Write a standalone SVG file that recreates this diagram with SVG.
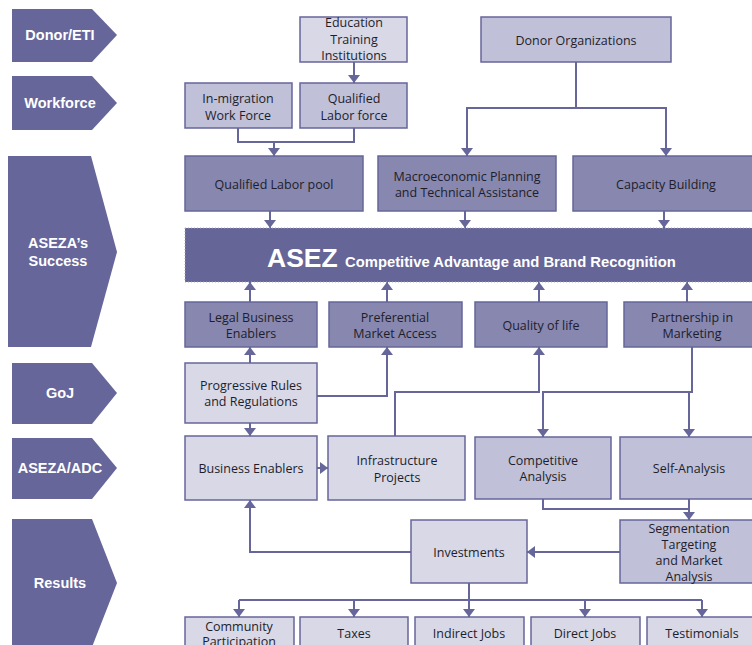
<svg xmlns="http://www.w3.org/2000/svg" width="752" height="645" viewBox="0 0 752 645">
<style>
.lbl{fill:#66669a}
.lt{font-family:"Liberation Sans",Arial,sans-serif;font-weight:bold;font-size:14.5px;fill:#fff;text-anchor:middle}
.n rect{stroke:#66669a;stroke-width:1.5}
.light{fill:#d8d8e7}
.med{fill:#c0c0d9}
.dark{fill:#8787b0}
.t{font-family:"Open Sans","Noto Sans",sans-serif;font-size:12.5px;fill:#1e1e2a;text-anchor:middle}
.c path{fill:none;stroke:#66669a;stroke-width:2}
</style>
<defs>
<marker id="ah" viewBox="0 0 8 12" refX="8" refY="6" markerWidth="8" markerHeight="12" markerUnits="userSpaceOnUse" orient="auto">
<path d="M0,0 L8,6 L0,12 z" fill="#66669a"/>
</marker>
</defs>
<rect width="752" height="645" fill="#fff"/>

<g id="label-donor"><polygon class="lbl" points="12,9 92,9 117,35 92,62 12,62"/><text class="lt" x="60" y="40">Donor/ETI</text></g>
<g id="label-workforce"><polygon class="lbl" points="12,76 92,76 117,103 92,130 12,130"/><text class="lt" x="60" y="108">Workforce</text></g>
<g id="label-success"><polygon class="lbl" points="8,156 91,156 117,252 91,347 8,347"/><text class="lt" x="58" y="248">ASEZA’s</text><text class="lt" x="58" y="266">Success</text></g>
<g id="label-goj"><polygon class="lbl" points="12,363 92,363 117,393 92,424 12,424"/><text class="lt" x="60" y="398">GoJ</text></g>
<g id="label-adc"><polygon class="lbl" points="12,438 92,438 117,468 92,499 12,499"/><text class="lt" x="60" y="473">ASEZA/ADC</text></g>
<g id="label-results"><polygon class="lbl" points="12,519 92,519 117,583 92,647 12,647"/><text class="lt" x="60" y="588">Results</text></g>

<g id="connectors" class="c">
<path d="M354,62 V83" marker-end="url(#ah)"/>
<path d="M238,128 V142 H354 V128"/>
<path d="M274,142 V156" marker-end="url(#ah)"/>
<path d="M576,62 V108"/>
<path d="M576,108 H467 V156" marker-end="url(#ah)"/>
<path d="M576,108 H666 V156" marker-end="url(#ah)"/>
<path d="M270,211 V228" marker-end="url(#ah)"/>
<path d="M465,211 V228" marker-end="url(#ah)"/>
<path d="M664,211 V228" marker-end="url(#ah)"/>
<path d="M250,302 V282" marker-end="url(#ah)"/>
<path d="M387,302 V282" marker-end="url(#ah)"/>
<path d="M539,302 V282" marker-end="url(#ah)"/>
<path d="M687,302 V282" marker-end="url(#ah)"/>
<path d="M250,363 V347" marker-end="url(#ah)"/>
<path d="M317,396 H387 V347" marker-end="url(#ah)"/>
<path d="M250,423 V436" marker-end="url(#ah)"/>
<path d="M317,468 H328" marker-end="url(#ah)"/>
<path d="M395,436 V392 H539 V347" marker-end="url(#ah)"/>
<path d="M692,347 V392 H543 V437" marker-end="url(#ah)"/>
<path d="M689,392 V437" marker-end="url(#ah)"/>
<path d="M543,499 V509 H689"/>
<path d="M689,499 V520" marker-end="url(#ah)"/>
<path d="M620,552 H527" marker-end="url(#ah)"/>
<path d="M411,552 H250 V500" marker-end="url(#ah)"/>
<path d="M469,583 V600"/>
<path d="M239,600 H702"/>
<path d="M239,600 V617" marker-end="url(#ah)"/>
<path d="M354,600 V617" marker-end="url(#ah)"/>
<path d="M469,600 V617" marker-end="url(#ah)"/>
<path d="M585,600 V617" marker-end="url(#ah)"/>
<path d="M702,600 V617" marker-end="url(#ah)"/>
</g>

<g id="edu" class="n"><rect class="light" x="300" y="17" width="107" height="45"/><text class="t" x="354" y="27">Education</text><text class="t" x="354" y="44">Training</text><text class="t" x="354" y="60">Institutions</text></g>
<g id="donor-org" class="n"><rect class="med" x="481" y="17" width="190" height="45"/><text class="t" x="576" y="44.5">Donor Organizations</text></g>
<g id="inmigration" class="n"><rect class="med" x="185" y="83" width="107" height="45"/><text class="t" x="238" y="103">In-migration</text><text class="t" x="238" y="119.5">Work Force</text></g>
<g id="qual-force" class="n"><rect class="med" x="300" y="83" width="107" height="45"/><text class="t" x="354" y="103">Qualified</text><text class="t" x="354" y="119.5">Labor force</text></g>
<g id="labor-pool" class="n"><rect class="dark" x="185" y="156" width="178" height="55"/><text class="t" x="274" y="188.5">Qualified Labor pool</text></g>
<g id="macro" class="n"><rect class="dark" x="378" y="156" width="178" height="55"/><text class="t" x="467" y="181">Macroeconomic Planning</text><text class="t" x="467" y="196.5">and Technical Assistance</text></g>
<g id="capacity" class="n"><rect class="dark" x="573" y="156" width="187" height="55"/><text class="t" x="666" y="188.5">Capacity Building</text></g>
<g id="asez"><rect x="185" y="228" width="575" height="54" fill="#656598" stroke="#a9a9b9" stroke-width="1" stroke-dasharray="1,2"/><text font-family="'Liberation Sans',Arial,sans-serif" font-weight="bold" fill="#fff" y="267"><tspan x="267" font-size="26.5">ASEZ</tspan><tspan x="345" font-size="14.8">Competitive Advantage and Brand Recognition</tspan></text></g>
<g id="legal" class="n"><rect class="dark" x="185" y="302" width="132" height="45"/><text class="t" x="251" y="322">Legal Business</text><text class="t" x="251" y="337.5">Enablers</text></g>
<g id="preferential" class="n"><rect class="dark" x="329" y="302" width="133" height="45"/><text class="t" x="395" y="322">Preferential</text><text class="t" x="395" y="337.5">Market Access</text></g>
<g id="quality" class="n"><rect class="dark" x="475" y="302" width="132" height="45"/><text class="t" x="541" y="329.5">Quality of life</text></g>
<g id="partnership" class="n"><rect class="dark" x="624" y="302" width="136" height="45"/><text class="t" x="692" y="322">Partnership in</text><text class="t" x="692" y="337.5">Marketing</text></g>
<g id="progressive" class="n"><rect class="light" x="185" y="363" width="132" height="60"/><text class="t" x="251" y="390">Progressive Rules</text><text class="t" x="251" y="405.5">and Regulations</text></g>
<g id="business-enablers" class="n"><rect class="light" x="185" y="436" width="132" height="64"/><text class="t" x="251" y="472.5">Business Enablers</text></g>
<g id="infrastructure" class="n"><rect class="light" x="328" y="436" width="137" height="64"/><text class="t" x="397" y="465">Infrastructure</text><text class="t" x="397" y="481.5">Projects</text></g>
<g id="competitive" class="n"><rect class="med" x="475" y="437" width="136" height="62"/><text class="t" x="543" y="464.5">Competitive</text><text class="t" x="543" y="480.5">Analysis</text></g>
<g id="self-analysis" class="n"><rect class="med" x="620" y="437" width="140" height="62"/><text class="t" x="689" y="472.5">Self-Analysis</text></g>
<g id="segmentation" class="n"><rect class="med" x="620" y="520" width="140" height="63"/><text class="t" x="689" y="532.5">Segmentation</text><text class="t" x="689" y="548.5">Targeting</text><text class="t" x="689" y="564.5">and Market</text><text class="t" x="689" y="581">Analysis</text></g>
<g id="investments" class="n"><rect class="light" x="411" y="520" width="116" height="63"/><text class="t" x="469" y="556.5">Investments</text></g>
<g id="community" class="n"><rect class="light" x="185" y="617" width="109" height="40"/><text class="t" x="239" y="630.5">Community</text><text class="t" x="239" y="645.5">Participation</text></g>
<g id="taxes" class="n"><rect class="light" x="300" y="617" width="108" height="40"/><text class="t" x="354" y="637.5">Taxes</text></g>
<g id="indirect" class="n"><rect class="light" x="415" y="617" width="109" height="40"/><text class="t" x="469" y="637.5">Indirect Jobs</text></g>
<g id="direct" class="n"><rect class="light" x="531" y="617" width="109" height="40"/><text class="t" x="585" y="637.5">Direct Jobs</text></g>
<g id="testimonials" class="n"><rect class="light" x="647" y="617" width="113" height="40"/><text class="t" x="702" y="637.5">Testimonials</text></g>
</svg>
